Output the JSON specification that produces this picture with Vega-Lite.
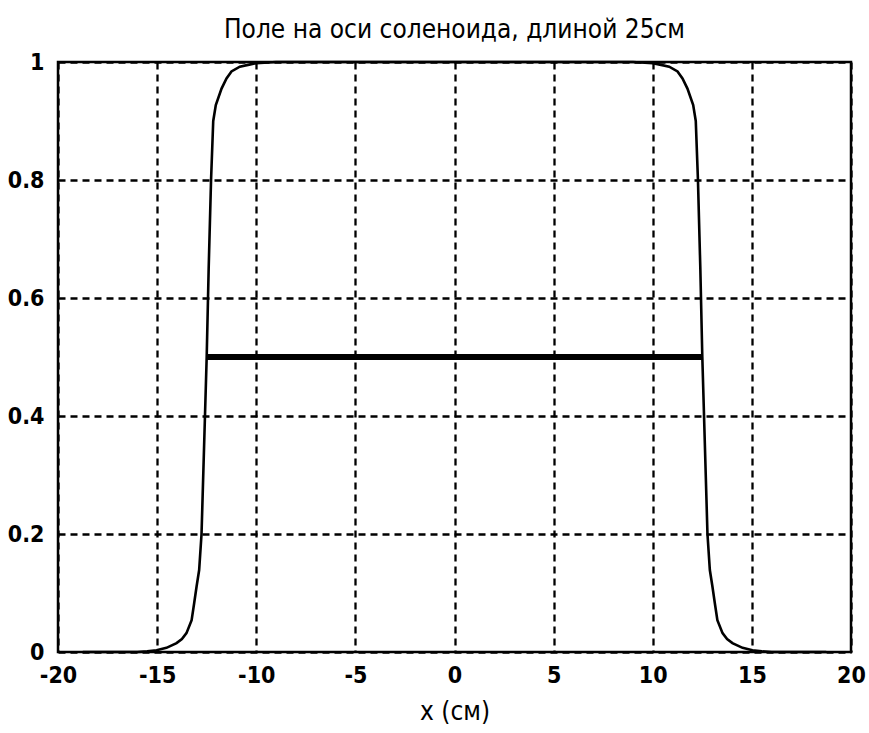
{
  "$schema": "https://vega.github.io/schema/vega-lite/v6.json",
  "autosize": {"type": "none"},
  "padding": {"left": 58, "top": 62, "right": 18, "bottom": 81},
  "width": 793,
  "height": 590,
  "background": "white",
  "title": {
    "text": "Поле на оси соленоида, длиной 25см",
    "font": "DejaVu Sans Condensed",
    "fontSize": 26,
    "fontWeight": "normal",
    "color": "black",
    "anchor": "middle",
    "frame": "group",
    "offset": 8
  },
  "datasets": {
    "field": [
      {"x": -18.75, "b": 0},
      {"x": -17, "b": 0},
      {"x": -16, "b": 0},
      {"x": -15.5, "b": 0.001},
      {"x": -15.03, "b": 0.003},
      {"x": -14.53, "b": 0.007},
      {"x": -14.02, "b": 0.015},
      {"x": -13.75, "b": 0.022},
      {"x": -13.52, "b": 0.032},
      {"x": -13.26, "b": 0.054},
      {"x": -13.13, "b": 0.083},
      {"x": -13.01, "b": 0.111},
      {"x": -12.88, "b": 0.139},
      {"x": -12.76, "b": 0.2},
      {"x": -12.63, "b": 0.35},
      {"x": -12.5, "b": 0.5},
      {"x": -12.4, "b": 0.65},
      {"x": -12.28, "b": 0.8},
      {"x": -12.17, "b": 0.9},
      {"x": -12.04, "b": 0.927},
      {"x": -11.75, "b": 0.955},
      {"x": -11.5, "b": 0.972},
      {"x": -11.25, "b": 0.984},
      {"x": -10.83, "b": 0.992},
      {"x": -10.3, "b": 0.996},
      {"x": -10, "b": 0.998},
      {"x": -9, "b": 1},
      {"x": 0, "b": 1},
      {"x": 9, "b": 1},
      {"x": 10, "b": 0.998},
      {"x": 10.3, "b": 0.996},
      {"x": 10.83, "b": 0.992},
      {"x": 11.25, "b": 0.984},
      {"x": 11.5, "b": 0.972},
      {"x": 11.75, "b": 0.955},
      {"x": 12.04, "b": 0.927},
      {"x": 12.17, "b": 0.9},
      {"x": 12.28, "b": 0.8},
      {"x": 12.4, "b": 0.65},
      {"x": 12.5, "b": 0.5},
      {"x": 12.63, "b": 0.35},
      {"x": 12.76, "b": 0.2},
      {"x": 12.88, "b": 0.139},
      {"x": 13.01, "b": 0.111},
      {"x": 13.13, "b": 0.083},
      {"x": 13.26, "b": 0.054},
      {"x": 13.52, "b": 0.032},
      {"x": 13.75, "b": 0.022},
      {"x": 14.02, "b": 0.015},
      {"x": 14.53, "b": 0.007},
      {"x": 15.03, "b": 0.003},
      {"x": 15.5, "b": 0.001},
      {"x": 16, "b": 0},
      {"x": 17, "b": 0},
      {"x": 18.75, "b": 0}
    ],
    "ideal": [
      {"x": -12.5, "b": 0.5},
      {"x": 12.5, "b": 0.5}
    ]
  },
  "config": {
    "view": {"stroke": "black", "strokeWidth": 2.5},
    "axis": {
      "labelFont": "DejaVu Sans Condensed",
      "labelFontSize": 23,
      "labelFontWeight": "bold",
      "labelColor": "black",
      "titleFont": "DejaVu Sans Condensed",
      "titleFontSize": 26,
      "titleFontWeight": "normal",
      "titleColor": "black",
      "domain": false,
      "ticks": false,
      "grid": true,
      "gridColor": "black",
      "gridOpacity": 1,
      "gridWidth": 2.3,
      "gridDash": [7, 5]
    }
  },
  "layer": [
    {
      "data": {"name": "field"},
      "mark": {"type": "line", "color": "black", "strokeWidth": 2.6, "clip": false},
      "encoding": {
        "x": {
          "field": "x",
          "type": "quantitative",
          "scale": {"domain": [-20, 20], "nice": false, "zero": false},
          "axis": {
            "values": [-20, -15, -10, -5, 0, 5, 10, 15, 20],
            "labelExpr": "datum.value < 0 ? '-' + abs(datum.value) : '' + datum.value",
            "title": "x (см)",
            "labelPadding": 12,
            "titlePadding": 11,
            "labelFlush": false
          }
        },
        "y": {
          "field": "b",
          "type": "quantitative",
          "scale": {"domain": [0, 1], "nice": false},
          "axis": {
            "values": [0, 0.2, 0.4, 0.6, 0.8, 1],
            "format": "~g",
            "title": null,
            "labelPadding": 14,
            "labelFlush": false
          }
        }
      }
    },
    {
      "data": {"name": "ideal"},
      "mark": {"type": "line", "color": "black", "strokeWidth": 6, "strokeCap": "butt"},
      "encoding": {
        "x": {"field": "x", "type": "quantitative"},
        "y": {"field": "b", "type": "quantitative"}
      }
    }
  ]
}
